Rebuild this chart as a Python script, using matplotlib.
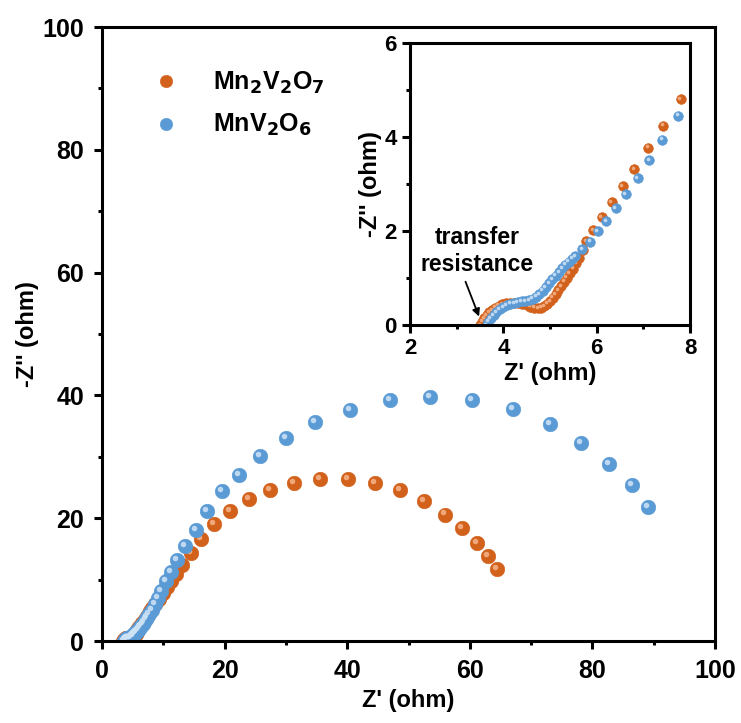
import matplotlib
matplotlib.use('Agg')
import matplotlib.pyplot as plt
from matplotlib.transforms import offset_copy
from matplotlib.ticker import MultipleLocator

plt.rcParams['font.family'] = ['Liberation Sans', 'DejaVu Sans']
plt.rcParams['font.weight'] = 'bold'
plt.rcParams['mathtext.default'] = 'bf'

# Nyquist data, Z' vs -Z'' (ohm)
mn2v2o7_x = [3.50, 3.54, 3.59, 3.64, 3.70, 3.76, 3.83, 3.90, 3.98, 4.06,
             4.14, 4.23, 4.32, 4.41, 4.50, 4.58, 4.66, 4.74, 4.81, 4.88,
             4.94, 5.00, 5.06, 5.12, 5.18, 5.24, 5.30, 5.36, 5.42, 5.49,
             5.56, 5.63, 5.70, 5.77, 5.93, 6.11, 6.32, 6.56, 6.80, 7.11,
             7.43, 7.80, 8.20, 8.70, 9.30, 9.90, 10.6, 11.3, 12.1, 13.1,
             14.5, 16.1, 18.3, 20.9, 23.9, 27.4, 31.3, 35.6, 40.1, 44.5,
             48.6, 52.6, 56.0, 58.8, 61.1, 62.9, 64.4]
mn2v2o7_y = [0.00, 0.07, 0.14, 0.21, 0.27, 0.32, 0.37, 0.41, 0.44, 0.46,
             0.47, 0.47, 0.46, 0.44, 0.42, 0.39, 0.37, 0.36, 0.37, 0.40,
             0.45, 0.51, 0.58, 0.66, 0.74, 0.83, 0.92, 1.01, 1.10, 1.20,
             1.31, 1.42, 1.60, 1.79, 2.02, 2.30, 2.62, 2.96, 3.31, 3.77,
             4.24, 4.81, 5.40, 6.10, 6.90, 7.80, 8.80, 9.80, 10.9, 12.4,
             14.4, 16.6, 19.1, 21.2, 23.1, 24.6, 25.7, 26.4, 26.4, 25.8,
             24.6, 22.8, 20.6, 18.4, 16.0, 13.9, 11.8]

mnv2o6_x = [3.64, 3.68, 3.73, 3.79, 3.85, 3.92, 3.99, 4.07, 4.15, 4.23,
            4.31, 4.39, 4.47, 4.55, 4.63, 4.70, 4.77, 4.84, 4.91, 4.98,
            5.05, 5.12, 5.19, 5.26, 5.33, 5.40, 5.47, 5.54, 5.69, 5.86,
            6.02, 6.21, 6.41, 6.62, 6.88, 7.13, 7.41, 7.74, 8.10, 8.60,
            9.10, 9.70, 10.4, 11.2, 12.2, 13.6, 15.3, 17.2, 19.5, 22.3,
            25.8, 30.0, 34.7, 40.5, 46.9, 53.5, 60.3, 67.0, 73.1, 78.2,
            82.7, 86.4, 89.0]
mnv2o6_y = [0.00, 0.07, 0.14, 0.21, 0.27, 0.33, 0.38, 0.42, 0.45, 0.47,
            0.49, 0.50, 0.51, 0.53, 0.56, 0.60, 0.66, 0.73, 0.81, 0.89,
            0.97, 1.05, 1.13, 1.21, 1.28, 1.35, 1.41, 1.47, 1.61, 1.77,
            1.99, 2.21, 2.48, 2.78, 3.12, 3.51, 3.94, 4.45, 5.10, 6.00,
            7.00, 8.20, 9.70, 11.3, 13.2, 15.4, 18.0, 21.1, 24.4, 27.1,
            30.1, 33.0, 35.6, 37.7, 39.3, 39.8, 39.3, 37.8, 35.3, 32.3,
            28.9, 25.4, 21.8]

orange = '#D2611C'
blue = '#5B9BD5'
orange_hi = '#F6B48A'
blue_hi = '#CFE3F6'


def balls(ax, x, y, color, hi, ms, label=None):
    # shaded sphere: base disc plus a small offset highlight
    ax.plot(x, y, 'o', ms=ms, color=color, mec=color, mew=0.4, label=label)
    tr = offset_copy(ax.transData, fig=ax.figure, x=-ms*0.14, y=ms*0.14, units='points')
    ax.plot(x, y, 'o', ms=ms*0.38, color=hi, mec='none', alpha=0.85, transform=tr)


def style(ax, size, width, pad):
    for s in ax.spines.values():
        s.set_linewidth(width)
    ax.tick_params(which='major', direction='out', length=6, width=width,
                   labelsize=size, pad=pad, top=False, right=False)
    ax.tick_params(which='minor', direction='out', length=3, width=width,
                   top=False, right=False)


fig = plt.figure(figsize=(7.41, 7.23), dpi=100)
ax = fig.add_axes([0.1377, 0.1134, 0.8273, 0.8492])

balls(ax, mn2v2o7_x, mn2v2o7_y, orange, orange_hi, 10.5)
balls(ax, mnv2o6_x, mnv2o6_y, blue, blue_hi, 10.5)

ax.set_xlim(0, 100)
ax.set_ylim(0, 100)
ax.xaxis.set_major_locator(MultipleLocator(20))
ax.xaxis.set_minor_locator(MultipleLocator(10))
ax.yaxis.set_major_locator(MultipleLocator(20))
ax.yaxis.set_minor_locator(MultipleLocator(10))
style(ax, 18, 2.2, 7)
ax.set_xlabel("Z' (ohm)", fontsize=17, fontweight='bold', labelpad=4)
ax.set_ylabel("-Z'' (ohm)", fontsize=17, fontweight='bold', labelpad=2)

h = ax.get_lines()
ax.legend([h[0], h[2]], [r'Mn$_2$V$_2$O$_7$', r'MnV$_2$O$_6$'],
          loc='upper left', bbox_to_anchor=(0.035, 0.967), frameon=False,
          fontsize=18, markerscale=0.85, handlelength=1.6, handletextpad=1.1,
          labelspacing=0.65)

# inset: high-frequency region
ins = fig.add_axes([0.5533, 0.5505, 0.3779, 0.39])
balls(ins, mn2v2o7_x, mn2v2o7_y, orange, orange_hi, 7)
balls(ins, mnv2o6_x, mnv2o6_y, blue, blue_hi, 7)
ins.set_xlim(2, 8)
ins.set_ylim(0, 6)
ins.xaxis.set_major_locator(MultipleLocator(2))
ins.xaxis.set_minor_locator(MultipleLocator(1))
ins.yaxis.set_major_locator(MultipleLocator(2))
ins.yaxis.set_minor_locator(MultipleLocator(1))
style(ins, 16, 2.2, 3.5)
ins.set_xlabel("Z' (ohm)", fontsize=17, fontweight='bold', labelpad=2)
ins.set_ylabel("-Z'' (ohm)", fontsize=17, fontweight='bold', labelpad=2)
ins.text(3.44, 1.57, 'transfer\nresistance', ha='center', va='center',
         fontsize=16.5, fontweight='bold')
ins.annotate('', xy=(3.48, 0.18), xytext=(3.19, 0.92),
             arrowprops=dict(arrowstyle='-|>', color='black', lw=1.3,
                             shrinkA=0, shrinkB=0, mutation_scale=11))

fig.savefig('out.png', dpi=100)
